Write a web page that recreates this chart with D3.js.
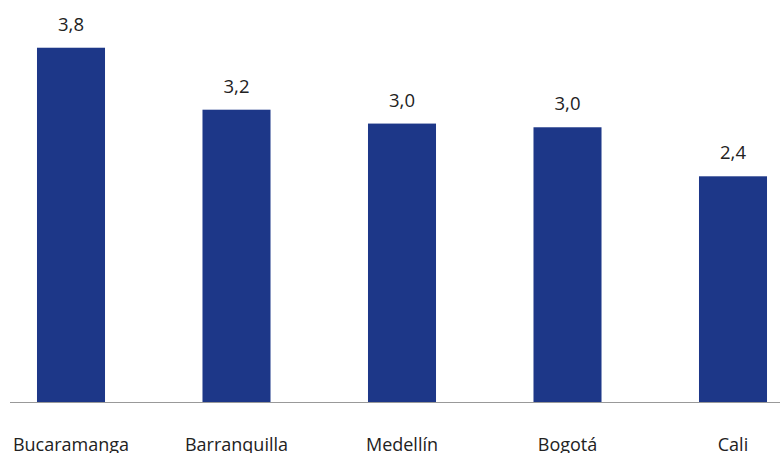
<!DOCTYPE html>
<html><head><meta charset="utf-8">
<script src="https://cdn.jsdelivr.net/npm/d3@7"></script>
<style>html,body{margin:0;padding:0;background:#fff;overflow:hidden}</style>
</head><body>
<svg id="c" width="780" height="453"></svg>
<script>
const categories = ["Bucaramanga", "Barranquilla", "Medellín", "Bogotá", "Cali"];
const values = [3.83, 3.16, 3.01, 2.97, 2.44];

const svg = d3.select("#c");
const W = 780, H = 453;
const baseY = 402;
const x = d3.scaleBand().domain(categories).range([-11.75, 815.75]).paddingInner(0.589).paddingOuter(0.2945);
const y = d3.scaleLinear().domain([0, 4]).range([baseY, 32]);
const fmt = v => d3.format(".1f")(v).replace(".", ",");
const font = "'Open Sans', 'Noto Sans', sans-serif";

svg.selectAll("rect.bar").data(values).join("rect")
  .attr("class", "bar")
  .attr("x", (d, i) => x(categories[i]))
  .attr("width", x.bandwidth())
  .attr("y", d => y(d))
  .attr("height", d => y(0) - y(d))
  .attr("fill", "#1d3788");

svg.selectAll("text.val").data(values).join("text")
  .attr("class", "val")
  .attr("x", (d, i) => x(categories[i]) + x.bandwidth() / 2)
  .attr("y", d => y(d) - 17)
  .attr("text-anchor", "middle")
  .attr("font-family", font)
  .attr("font-size", 18.5)
  .attr("fill", "#222")
  .text(d => fmt(d));

svg.append("line")
  .attr("x1", 10).attr("x2", W)
  .attr("y1", baseY + 0.5).attr("y2", baseY + 0.5)
  .attr("stroke", "#999").attr("stroke-width", 1);

const xAxis = d3.axisBottom(x).tickSize(0).tickPadding(0);
const gx = svg.append("g").attr("transform", `translate(0,${baseY})`).call(xAxis);
gx.select(".domain").remove();
gx.selectAll("text")
  .attr("dy", null)
  .attr("y", 49)
  .attr("font-family", font)
  .attr("font-size", 18)
  .attr("fill", "#222");
</script>
</body></html>
